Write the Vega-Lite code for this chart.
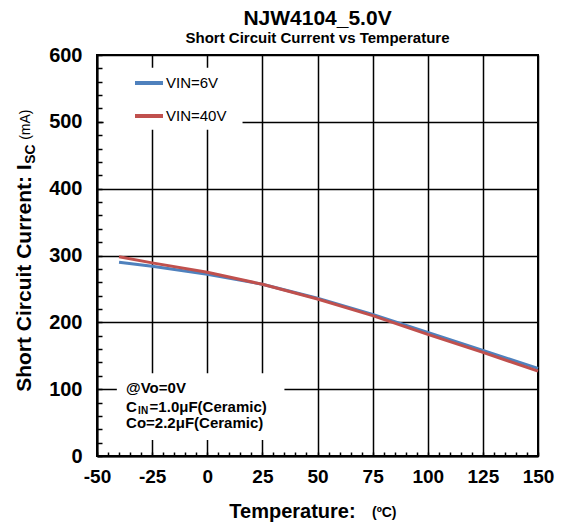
{
  "$schema": "https://vega.github.io/schema/vega-lite/v6.json",
  "width": 441,
  "height": 401,
  "autosize": {"type": "none"},
  "padding": {"left": 97, "top": 55, "right": 25, "bottom": 68},
  "background": "white",
  "title": {
    "text": "NJW4104_5.0V",
    "subtitle": "Short Circuit Current vs Temperature",
    "anchor": "middle",
    "font": "Liberation Sans",
    "fontSize": 21,
    "fontWeight": "bold",
    "color": "black",
    "subtitleFont": "Liberation Sans",
    "subtitleFontSize": 15,
    "subtitleFontWeight": "bold",
    "subtitleColor": "black",
    "subtitlePadding": 2,
    "offset": -1
  },
  "config": {
    "view": {"stroke": "black", "strokeWidth": 2},
    "font": "Liberation Sans"
  },
  "resolve": {"axis": {"x": "independent", "y": "independent"}},
  "layer": [
    {
      "data": {
        "values": [
          {"series": "VIN=6V", "temp": -40, "isc": 290},
          {"series": "VIN=6V", "temp": -25, "isc": 284},
          {"series": "VIN=6V", "temp": 0, "isc": 272},
          {"series": "VIN=6V", "temp": 25, "isc": 257},
          {"series": "VIN=6V", "temp": 50, "isc": 236},
          {"series": "VIN=6V", "temp": 75, "isc": 212},
          {"series": "VIN=6V", "temp": 100, "isc": 185},
          {"series": "VIN=6V", "temp": 125, "isc": 158},
          {"series": "VIN=6V", "temp": 150, "isc": 131},
          {"series": "VIN=40V", "temp": -40, "isc": 298},
          {"series": "VIN=40V", "temp": -25, "isc": 289},
          {"series": "VIN=40V", "temp": 0, "isc": 275},
          {"series": "VIN=40V", "temp": 25, "isc": 257},
          {"series": "VIN=40V", "temp": 50, "isc": 235},
          {"series": "VIN=40V", "temp": 75, "isc": 210},
          {"series": "VIN=40V", "temp": 100, "isc": 182},
          {"series": "VIN=40V", "temp": 125, "isc": 155},
          {"series": "VIN=40V", "temp": 150, "isc": 127}
        ]
      },
      "mark": {"type": "line", "strokeWidth": 3},
      "encoding": {
        "x": {
          "field": "temp",
          "type": "quantitative",
          "scale": {"domain": [-50, 150], "nice": false, "zero": false},
          "axis": {
            "title": null,
            "values": [-50, -45, -40, -35, -30, -25, -20, -15, -10, -5, 0, 5, 10, 15, 20, 25, 30, 35, 40, 45, 50, 55, 60, 65, 70, 75, 80, 85, 90, 95, 100, 105, 110, 115, 120, 125, 130, 135, 140, 145, 150],
            "labelExpr": "datum.value % 25 === 0 ? '' + datum.value : ''",
            "labelOverlap": false,
            "labelFlush": false,
            "labelFont": "Liberation Sans",
            "labelFontSize": 19,
            "labelFontWeight": "bold",
            "labelColor": "black",
            "labelPadding": 15,
            "tickSize": -4,
            "tickColor": "black",
            "tickWidth": 1.5,
            "domainColor": "black",
            "domainWidth": 2,
            "grid": true,
            "gridColor": "black",
            "gridWidth": 1.5,
            "gridOpacity": {"condition": {"test": "datum.value % 25 === 0", "value": 1}, "value": 0}
          }
        },
        "y": {
          "field": "isc",
          "type": "quantitative",
          "scale": {"domain": [0, 600], "nice": false},
          "axis": {
            "title": null,
            "values": [0, 20, 40, 60, 80, 100, 120, 140, 160, 180, 200, 220, 240, 260, 280, 300, 320, 340, 360, 380, 400, 420, 440, 460, 480, 500, 520, 540, 560, 580, 600],
            "labelExpr": "datum.value % 100 === 0 ? '' + datum.value : ''",
            "labelOverlap": false,
            "labelFlush": false,
            "labelFont": "Liberation Sans",
            "labelFontSize": 20,
            "labelFontWeight": "bold",
            "labelColor": "black",
            "labelPadding": 20,
            "tickSize": -5,
            "tickColor": "black",
            "tickWidth": 1.5,
            "domainColor": "black",
            "domainWidth": 2,
            "grid": true,
            "gridColor": "black",
            "gridWidth": 1.5,
            "gridOpacity": {"condition": {"test": "datum.value % 100 === 0", "value": 1}, "value": 0}
          }
        },
        "color": {
          "field": "series",
          "type": "nominal",
          "sort": ["VIN=6V", "VIN=40V"],
          "scale": {"domain": ["VIN=6V", "VIN=40V"], "range": ["#4F81BD", "#C0504D"]},
          "legend": {
            "title": null,
            "orient": "none",
            "legendX": 36,
            "legendY": 12,
            "padding": 0,
            "symbolType": "stroke",
            "symbolStrokeWidth": 4,
            "symbolSize": 784,
            "labelFont": "Liberation Sans",
            "labelFontSize": 15,
            "labelColor": "black",
            "labelOffset": 1,
            "rowPadding": 9
          }
        }
      }
    },
    {
      "data": {"values": [{}]},
      "mark": {"type": "rect", "fill": "white"},
      "encoding": {
        "x": {"datum": -47, "type": "quantitative", "axis": null},
        "x2": {"datum": 16},
        "y": {"datum": 581, "type": "quantitative", "axis": null},
        "y2": {"datum": 488}
      }
    },
    {
      "data": {"values": [{}]},
      "mark": {"type": "rect", "fill": "white"},
      "encoding": {
        "x": {"datum": -41, "type": "quantitative", "axis": null},
        "x2": {"datum": 35},
        "y": {"datum": 124, "type": "quantitative", "axis": null},
        "y2": {"datum": 24}
      }
    },
    {
      "data": {"values": [{}]},
      "mark": {"type": "text", "text": "@Vo=0V", "align": "left", "baseline": "middle", "font": "Liberation Sans", "fontSize": 15, "fontWeight": "bold", "color": "black"},
      "encoding": {
        "x": {"datum": -36.8, "type": "quantitative", "axis": null},
        "y": {"datum": 101.8, "type": "quantitative", "axis": null}
      }
    },
    {
      "data": {"values": [{}]},
      "mark": {"type": "text", "text": "C", "align": "left", "baseline": "middle", "font": "Liberation Sans", "fontSize": 15, "fontWeight": "bold", "color": "black"},
      "encoding": {
        "x": {"datum": -36.8, "type": "quantitative", "axis": null},
        "y": {"datum": 73.4, "type": "quantitative", "axis": null}
      }
    },
    {
      "data": {"values": [{}]},
      "mark": {"type": "text", "text": "IN", "align": "left", "baseline": "middle", "font": "Liberation Sans", "fontSize": 10, "fontWeight": "bold", "color": "black", "dx": 12, "dy": 4},
      "encoding": {
        "x": {"datum": -36.8, "type": "quantitative", "axis": null},
        "y": {"datum": 73.4, "type": "quantitative", "axis": null}
      }
    },
    {
      "data": {"values": [{}]},
      "mark": {"type": "text", "text": "=1.0μF(Ceramic)", "align": "left", "baseline": "middle", "font": "Liberation Sans", "fontSize": 15, "fontWeight": "bold", "color": "black", "dx": 23.5},
      "encoding": {
        "x": {"datum": -36.8, "type": "quantitative", "axis": null},
        "y": {"datum": 73.4, "type": "quantitative", "axis": null}
      }
    },
    {
      "data": {"values": [{}]},
      "mark": {"type": "text", "text": "Co=2.2μF(Ceramic)", "align": "left", "baseline": "middle", "font": "Liberation Sans", "fontSize": 15, "fontWeight": "bold", "color": "black"},
      "encoding": {
        "x": {"datum": -36.8, "type": "quantitative", "axis": null},
        "y": {"datum": 49.4, "type": "quantitative", "axis": null}
      }
    },
    {
      "data": {"values": [{}]},
      "mark": {"type": "text", "text": "Short Circuit Current: I", "angle": 270, "align": "left", "baseline": "middle", "font": "Liberation Sans", "fontSize": 21, "fontWeight": "bold", "color": "black", "dy": -72},
      "encoding": {
        "x": {"datum": -50, "type": "quantitative", "axis": null},
        "y": {"datum": 96, "type": "quantitative", "axis": null}
      }
    },
    {
      "data": {"values": [{}]},
      "mark": {"type": "text", "text": "SC", "angle": 270, "align": "left", "baseline": "middle", "font": "Liberation Sans", "fontSize": 14, "fontWeight": "bold", "color": "black", "dx": 228, "dy": -66},
      "encoding": {
        "x": {"datum": -50, "type": "quantitative", "axis": null},
        "y": {"datum": 96, "type": "quantitative", "axis": null}
      }
    },
    {
      "data": {"values": [{}]},
      "mark": {"type": "text", "text": "(mA)", "angle": 270, "align": "left", "baseline": "middle", "font": "Liberation Sans", "fontSize": 14, "color": "black", "dx": 252, "dy": -71},
      "encoding": {
        "x": {"datum": -50, "type": "quantitative", "axis": null},
        "y": {"datum": 96, "type": "quantitative", "axis": null}
      }
    },
    {
      "data": {"values": [{}]},
      "mark": {"type": "text", "text": "Temperature:", "align": "left", "baseline": "middle", "font": "Liberation Sans", "fontSize": 20, "fontWeight": "bold", "color": "black", "dy": 56},
      "encoding": {
        "x": {"datum": 10, "type": "quantitative", "axis": null},
        "y": {"datum": 0, "type": "quantitative", "axis": null}
      }
    },
    {
      "data": {"values": [{}]},
      "mark": {"type": "text", "text": "(ºC)", "align": "left", "baseline": "middle", "font": "Liberation Sans", "fontSize": 14, "fontWeight": "bold", "color": "black", "dy": 57},
      "encoding": {
        "x": {"datum": 74.7, "type": "quantitative", "axis": null},
        "y": {"datum": 0, "type": "quantitative", "axis": null}
      }
    }
  ]
}
